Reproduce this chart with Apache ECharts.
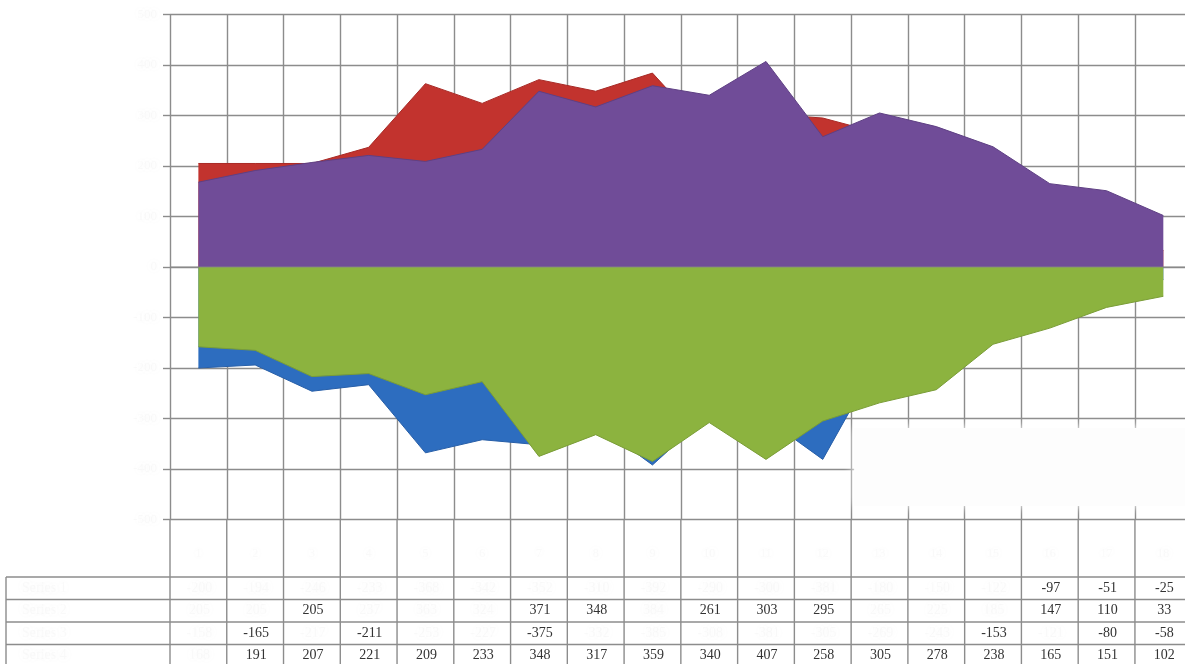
<!DOCTYPE html>
<html>
<head>
<meta charset="utf-8">
<script src="https://cdn.jsdelivr.net/npm/echarts@6/dist/echarts.min.js"></script>
<style>
  html, body { margin: 0; padding: 0; background: #ffffff; overflow: hidden; }
  #chart { width: 1200px; height: 664px; }
</style>
</head>
<body>
<div id="chart"></div>
<script>
// ---- data ----
const categories = ['1', '2', '3', '4', '5', '6', '7', '8', '9', '10', '11', '12', '13', '14', '15', '16', '17', '18'];
const seriesNames = ['Series 1', 'Series 2', 'Series 3', 'Series 4'];
const blueValues   = [-200, -194, -246, -233, -368, -342, -352, -310, -392, -290, -300, -381, -180, -150, -122, -97, -51, -25];
const redValues    = [205, 205, 205, 237, 363, 324, 371, 348, 384, 261, 303, 295, 265, 225, 185, 147, 110, 33];
const greenValues  = [-158, -165, -217, -211, -253, -227, -375, -332, -385, -308, -381, -305, -269, -243, -153, -121, -80, -58];
const purpleValues = [168, 191, 207, 221, 209, 233, 348, 317, 359, 340, 407, 258, 305, 278, 238, 165, 151, 102];
const yMin = -500, yMax = 500, yStep = 100;

// table rows in series order, and which cells print crisply (the rest are smudged)
const tableRows = [blueValues, redValues, greenValues, purpleValues];
const crispCells = [
  [15, 16, 17],
  [2, 6, 7, 9, 10, 11, 15, 16, 17],
  [1, 3, 6, 14, 16, 17],
  [1, 2, 3, 4, 5, 6, 7, 8, 9, 10, 11, 12, 13, 14, 15, 16, 17]
];

// ---- look ----
const GRID_COLOR = '#8c8c8c';
const palette = {
  blue:   { area: '#2D6DBF', edge: '#285fa8' },
  red:    { area: '#C2332E', edge: '#a82a26' },
  green:  { area: '#8CB33F', edge: '#7a9d37' },
  purple: { area: '#704C98', edge: '#5f4084' }
};
const GHOST_FILL = 'rgba(225,225,225,0.18)';
const GHOST_SHADOW = 'rgba(175,175,175,0.55)';
const ghostText = {
  color: GHOST_FILL,
  textShadowColor: GHOST_SHADOW,
  textShadowBlur: 9
};

// z keeps each line/area pair together: red under purple, blue under green
function areaSeries(name, data, c, z) {
  return {
    name: name,
    type: 'line',
    z: z,
    data: data,
    symbol: 'none',
    smooth: false,
    lineStyle: { width: 1, color: c.edge },
    areaStyle: { color: c.area, opacity: 1 },
    itemStyle: { color: c.area },
    emphasis: { disabled: true },
    silent: true
  };
}

const chart = echarts.init(document.getElementById('chart'), null, { renderer: 'canvas' });

chart.setOption({
  animation: false,
  backgroundColor: '#ffffff',
  grid: { left: 170, top: 14.5, width: 1021.7, height: 505, containLabel: false },
  xAxis: {
    type: 'category',
    data: categories,
    boundaryGap: true,
    axisLine: { show: false, onZero: false },
    axisTick: { show: false },
    splitLine: { show: true, interval: 0, lineStyle: { color: GRID_COLOR, width: 1.4 } },
    axisLabel: Object.assign({ interval: 0, margin: 28, fontSize: 12, fontFamily: 'Liberation Serif' }, ghostText)
  },
  yAxis: {
    type: 'value',
    min: yMin,
    max: yMax,
    interval: yStep,
    axisLine: { show: false },
    axisTick: { show: true, length: 7, inside: false, lineStyle: { color: GRID_COLOR, width: 1.4 } },
    splitLine: { show: true, lineStyle: { color: GRID_COLOR, width: 1.4 } },
    axisLabel: Object.assign({ margin: 13, fontSize: 13, fontFamily: 'Liberation Serif' }, ghostText)
  },
  series: [
    areaSeries(seriesNames[0], blueValues, palette.blue, 2),
    areaSeries(seriesNames[1], redValues, palette.red, 2),
    areaSeries(seriesNames[2], greenValues, palette.green, 3),
    areaSeries(seriesNames[3], purpleValues, palette.purple, 3)
  ]
});

// ---- data table under the plot, laid out on the category axis ----
const cx = k => chart.convertToPixel({ xAxisIndex: 0 }, categories[k]);
const cy = v => chart.convertToPixel({ yAxisIndex: 0 }, v);
const step = cx(1) - cx(0);
const bounds = [];
for (let k = 0; k <= categories.length; k++) bounds.push(cx(0) - step / 2 + k * step);

const plotBottom = cy(yMin);
const tableLeft = 6;
const tableRight = 1200;
const firstRowTop = 577;
const rowH = 22.5;

const elements = [];
const lineStyle = { stroke: GRID_COLOR, lineWidth: 1.4 };

// zero line drawn over the areas
elements.push({
  type: 'line', z: 100, silent: true,
  shape: { x1: bounds[0], y1: cy(0), x2: bounds[bounds.length - 1], y2: cy(0) },
  style: { stroke: 'rgba(135,135,135,0.85)', lineWidth: 1.2 }
});

// hidden legend block: a soft white patch over the lower right grid
elements.push({
  type: 'rect', z: 50, silent: true,
  shape: { x: bounds[12] + 3, y: 428, width: tableRight - bounds[12], height: 78 },
  style: { fill: '#fdfdfd', shadowBlur: 10, shadowColor: 'rgba(255,255,255,1)' }
});

// column rules running from the plot bottom through the table
bounds.forEach(x => {
  elements.push({ type: 'line', silent: true, shape: { x1: x, y1: plotBottom, x2: x, y2: 664 }, style: lineStyle });
});
// table outline and row rules
elements.push({ type: 'line', silent: true, shape: { x1: tableLeft, y1: firstRowTop, x2: tableLeft, y2: 664 }, style: lineStyle });
for (let r = 0; r <= tableRows.length; r++) {
  const y = firstRowTop + r * rowH;
  elements.push({ type: 'line', silent: true, shape: { x1: tableLeft, y1: y, x2: tableRight, y2: y }, style: lineStyle });
}

// row headers (smudged)
seriesNames.forEach((name, r) => {
  elements.push({
    type: 'text', silent: true, z: 20,
    style: {
      text: name, x: 22, y: firstRowTop + r * rowH + rowH / 2,
      textVerticalAlign: 'middle', textAlign: 'left',
      font: '14px "Liberation Serif"',
      fill: GHOST_FILL,
      textShadowColor: GHOST_SHADOW, textShadowBlur: 10
    }
  });
});

// cell values
tableRows.forEach((row, r) => {
  row.forEach((v, k) => {
    const crisp = crispCells[r].indexOf(k) >= 0;
    const style = {
      text: String(v), x: cx(k) + 1, y: firstRowTop + r * rowH + rowH / 2,
      textAlign: 'center', textVerticalAlign: 'middle',
      font: '14px "Liberation Serif"'
    };
    if (crisp) {
      style.fill = '#333333';
    } else {
      style.fill = GHOST_FILL;
      style.textShadowColor = GHOST_SHADOW;
      style.textShadowBlur = 9;
    }
    elements.push({ type: 'text', silent: true, z: 20, style: style });
  });
});

chart.setOption({ graphic: { elements: elements } });
</script>
</body>
</html>
